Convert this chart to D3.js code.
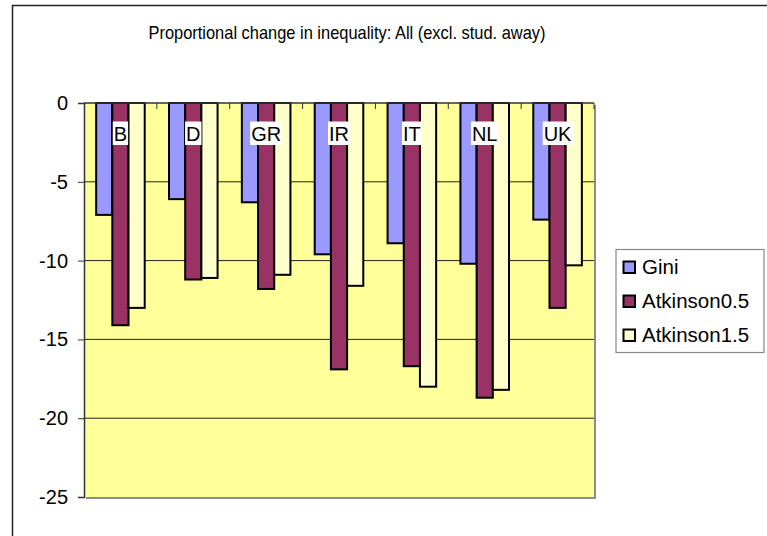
<!DOCTYPE html>
<html>
<head>
<meta charset="utf-8">
<script src="https://cdn.jsdelivr.net/npm/d3@7"></script>
<style>
  html, body { margin: 0; padding: 0; background: #fff; }
  svg { display: block; font-family: Arial, "Liberation Sans", sans-serif; }
</style>
</head>
<body>
<svg id="chart" width="767" height="536"></svg>
<script>
const categories = ["B", "D", "GR", "IR", "IT", "NL", "UK"];
const seriesNames = ["Gini", "Atkinson0.5", "Atkinson1.5"];
const gini       = [-7.1, -6.1, -6.3, -9.6, -8.9, -10.2, -7.4];
const atkinson05 = [-14.1, -11.2, -11.8, -16.9, -16.7, -18.7, -13.0];
const atkinson15 = [-13.0, -11.1, -10.9, -11.6, -18.0, -18.2, -10.3];
const yTicks = [0, -5, -10, -15, -20, -25];
const colors = ["#9999FF", "#993366", "#FFFFCC"];
const title = "Proportional change in inequality: All (excl. stud. away)";

const seriesValues = [gini, atkinson05, atkinson15];

const svg = d3.select("#chart");

// outer chart border (extends beyond the window to right and bottom)
svg.append("rect")
  .attr("x", 12.5).attr("y", 5.5)
  .attr("width", 800).attr("height", 600)
  .attr("fill", "none").attr("stroke", "#222").attr("stroke-width", 1.5);

const plot = { left: 84, right: 594, top: 103, bottom: 497 };

const x = d3.scaleBand().domain(categories).range([plot.left, plot.right]).paddingInner(0).paddingOuter(0);
const y = d3.scaleLinear().domain([-25, 0]).range([plot.bottom, plot.top]);

const bw = x.bandwidth() / 4.5;
const off = (x.bandwidth() - 3 * bw) / 2;

// plot area shadow + background
svg.append("rect")
  .attr("x", plot.left + 2).attr("y", plot.top + 2)
  .attr("width", plot.right - plot.left).attr("height", plot.bottom - plot.top)
  .attr("fill", "#8c8c8c");
svg.append("rect")
  .attr("x", plot.left).attr("y", plot.top)
  .attr("width", plot.right - plot.left).attr("height", plot.bottom - plot.top)
  .attr("fill", "#FFFF99");

// gridlines
svg.append("g").selectAll("line")
  .data(yTicks.filter(t => t !== 0 && t !== -25))
  .join("line")
  .attr("x1", plot.left).attr("x2", plot.right)
  .attr("y1", d => y(d)).attr("y2", d => y(d))
  .attr("stroke", "#222").attr("stroke-width", 1);

// bars
const g = svg.append("g");
seriesValues.forEach((vals, si) => {
  g.selectAll(null)
    .data(vals.map((v, i) => ({ cat: categories[i], v })))
    .join("rect")
    .attr("x", d => x(d.cat) + off + si * bw)
    .attr("y", y(0))
    .attr("width", bw)
    .attr("height", d => y(d.v) - y(0))
    .attr("fill", colors[si])
    .attr("stroke", "#000")
    .attr("stroke-width", 2);
});

// y axis
const yAxis = d3.axisLeft(y).tickValues(yTicks).tickSize(6).tickPadding(10).tickFormat(d => String(d));
const ya = svg.append("g").attr("transform", `translate(${plot.left},0)`).call(yAxis);
ya.select(".domain").attr("stroke", "#333").attr("stroke-width", 1.5);
ya.selectAll(".tick line").attr("stroke", "#333");
ya.selectAll(".tick text").attr("font-size", 20).attr("fill", "#000")
  .attr("font-family", "Arial, 'Liberation Sans', sans-serif");

// top category axis at y = 0 (tick marks at band boundaries)
svg.append("line")
  .attr("x1", plot.left).attr("x2", plot.right)
  .attr("y1", y(0)).attr("y2", y(0))
  .attr("stroke", "#333").attr("stroke-width", 1.5);
svg.append("g").selectAll("line")
  .data(categories.slice(1).map(c => x(c)).concat([plot.right]))
  .join("line")
  .attr("x1", d => d).attr("x2", d => d)
  .attr("y1", y(0)).attr("y2", y(0) + 6)
  .attr("stroke", "#333").attr("stroke-width", 1);

// category labels in white boxes
const labG = svg.append("g");
categories.forEach(c => {
  const cx = x(c) + x.bandwidth() / 2;
  const t = labG.append("text")
    .attr("x", cx).attr("y", 141)
    .attr("text-anchor", "middle")
    .attr("font-size", 20).attr("fill", "#000")
    .text(c);
  const bb = t.node().getBBox();
  labG.insert("rect", "text")
    .attr("x", bb.x - 1).attr("y", 121.5)
    .attr("width", bb.width + 2).attr("height", 23.5)
    .attr("fill", "#fff");
});

// title
svg.append("text")
  .attr("x", 347).attr("y", 39)
  .attr("text-anchor", "middle")
  .attr("font-size", 18.5).attr("fill", "#000")
  .attr("textLength", 397).attr("lengthAdjust", "spacingAndGlyphs")
  .text(title);

// legend
const lg = svg.append("g");
lg.append("rect")
  .attr("x", 616).attr("y", 249.5)
  .attr("width", 148).attr("height", 103)
  .attr("fill", "#fff").attr("stroke", "#888").attr("stroke-width", 1.2);
seriesNames.forEach((n, i) => {
  const by = 274 + i * 34;
  lg.append("rect")
    .attr("x", 623.5).attr("y", by - 12.5)
    .attr("width", 11.5).attr("height", 11.5)
    .attr("fill", colors[i]).attr("stroke", "#000").attr("stroke-width", 2);
  lg.append("text")
    .attr("x", 642).attr("y", by)
    .attr("font-size", 20.5).attr("fill", "#000")
    .text(n);
});
</script>
</body>
</html>
